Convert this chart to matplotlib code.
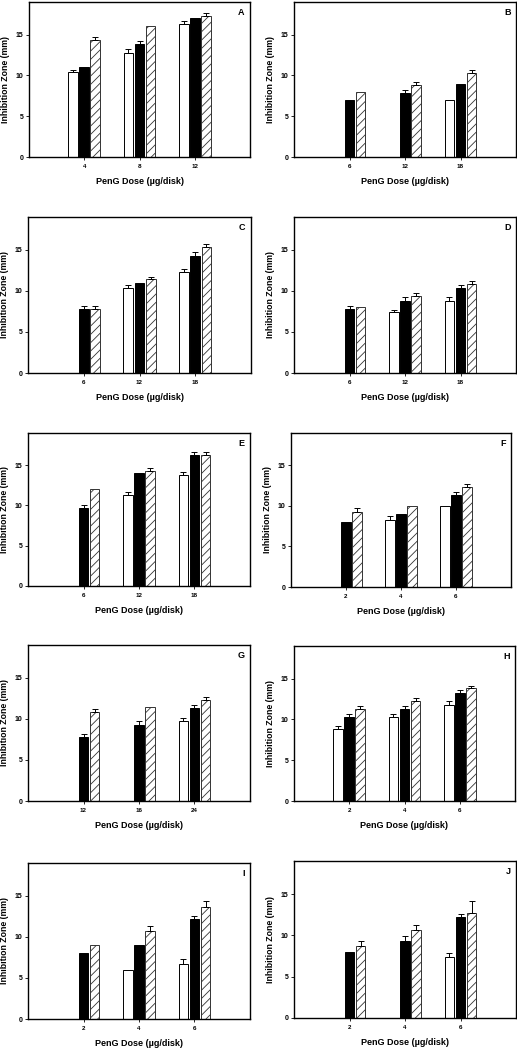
import numpy as np
import matplotlib
matplotlib.use('Agg')
import matplotlib.pyplot as plt

plt.rcParams['font.family'] = ['Liberation Sans', 'DejaVu Sans']
plt.rcParams['font.weight'] = 'bold'
plt.rcParams['hatch.linewidth'] = 0.6

nan = np.nan

# each panel: doses, then (white, black, hatched) means and upward errors
A_doses = ['4', '8', '12']
A_mean = [[10.4, 12.8, 16.3], [11.0, 13.8, 17.0], [14.3, 16.0, 17.3]]
A_err = [[0.3, 0.4, 0.35], [0.0, 0.4, 0.0], [0.4, 0.0, 0.3]]

B_doses = ['6', '12', '18']
B_mean = [[nan, nan, 7.0], [7.0, 7.8, 9.0], [8.0, 8.8, 10.3]]
B_err = [[nan, nan, 0.0], [0.0, 0.4, 0.0], [0.0, 0.4, 0.4]]

C_doses = ['6', '12', '18']
C_mean = [[nan, 10.3, 12.3], [7.8, 11.0, 14.3], [7.8, 11.4, 15.3]]
C_err = [[nan, 0.4, 0.4], [0.35, 0.0, 0.4], [0.35, 0.3, 0.4]]

D_doses = ['6', '12', '18']
D_mean = [[nan, 7.4, 8.8], [7.8, 8.8, 10.3], [8.0, 9.4, 10.8]]
D_err = [[nan, 0.3, 0.4], [0.4, 0.4, 0.4], [0.0, 0.3, 0.4]]

E_doses = ['6', '12', '18']
E_mean = [[nan, 11.3, 13.8], [9.7, 14.0, 16.3], [12.0, 14.3, 16.3]]
E_err = [[nan, 0.4, 0.4], [0.4, 0.0, 0.4], [0.0, 0.4, 0.4]]

F_doses = ['2', '4', '6']
F_mean = [[nan, 8.3, 10.0], [8.0, 9.0, 11.3], [9.3, 10.0, 12.3]]
F_err = [[nan, 0.4, 0.0], [0.0, 0.0, 0.4], [0.4, 0.0, 0.4]]

G_doses = ['12', '16', '24']
G_mean = [[nan, nan, 9.7], [7.8, 9.3, 11.3], [10.8, 11.5, 12.3]]
G_err = [[nan, nan, 0.4], [0.35, 0.4, 0.4], [0.4, 0.0, 0.4]]

H_doses = ['2', '4', '6']
H_mean = [[8.8, 10.3, 11.8], [10.3, 11.3, 13.3], [11.3, 12.3, 13.8]]
H_err = [[0.4, 0.35, 0.4], [0.35, 0.4, 0.35], [0.4, 0.35, 0.3]]

I_doses = ['2', '4', '6']
I_mean = [[nan, 6.0, 6.7], [8.0, 9.0, 12.2], [9.0, 10.7, 13.7]]
I_err = [[nan, 0.0, 0.6], [0.0, 0.0, 0.3], [0.0, 0.6, 0.7]]

J_doses = ['2', '4', '6']
J_mean = [[nan, nan, 7.4], [8.0, 9.3, 12.2], [8.7, 10.7, 12.7]]
J_err = [[nan, nan, 0.5], [0.0, 0.6, 0.35], [0.6, 0.5, 1.5]]

panels = [
    ('A', A_doses, A_mean, A_err, (29, 2, 250, 157)),
    ('B', B_doses, B_mean, B_err, (294, 2, 516, 157)),
    ('C', C_doses, C_mean, C_err, (28, 217, 251, 373)),
    ('D', D_doses, D_mean, D_err, (294, 217, 516, 373)),
    ('E', E_doses, E_mean, E_err, (28, 433, 250, 586)),
    ('F', F_doses, F_mean, F_err, (291, 433, 511, 587)),
    ('G', G_doses, G_mean, G_err, (28, 645, 250, 801)),
    ('H', H_doses, H_mean, H_err, (294, 646, 515, 801)),
    ('I', I_doses, I_mean, I_err, (28, 863, 250, 1019)),
    ('J', J_doses, J_mean, J_err, (294, 861, 516, 1018)),
]

W, H = 517, 1050
fig = plt.figure(figsize=(W / 100, H / 100), dpi=100)

offsets = [-0.2, 0.0, 0.2]
styles = [dict(color='white', edgecolor='black'),
          dict(color='black', edgecolor='black'),
          dict(color='white', edgecolor='#333333', hatch='////')]

for letter, doses, means, errs, (l, t, r, b) in panels:
    ax = fig.add_axes([l / W, 1 - b / H, (r - l) / W, (b - t) / H])
    x = np.arange(1, len(doses) + 1)
    for k in range(3):
        m = np.array(means[k], dtype=float)
        e = np.array(errs[k], dtype=float)
        ax.bar(x + offsets[k], m, width=0.175, linewidth=0.7, zorder=2, **styles[k])
        show = ~np.isnan(m) & (np.nan_to_num(e) > 0)
        ax.errorbar((x + offsets[k])[show], m[show],
                    yerr=[np.zeros(show.sum()), e[show]],
                    fmt='none', ecolor='black', elinewidth=0.7,
                    capsize=2.5, capthick=0.7, zorder=3)
    ax.set_xlim(0, 4)
    ax.set_ylim(0, 19)
    ax.set_xticks(x)
    ax.set_xticklabels(doses, fontsize=4.5, fontweight='bold')
    ax.set_yticks([0, 5, 10, 15])
    ax.tick_params(axis='y', labelsize=5, length=2, width=0.6, pad=2)
    ax.tick_params(axis='x', length=2, width=0.6, pad=3)
    for s in ax.spines.values():
        s.set_linewidth(1.0)
    ax.set_ylabel('Inhibition Zone (mm)', fontsize=6.3, fontweight='bold', labelpad=4)
    ax.set_xlabel('PenG Dose (\u00b5g/disk)', fontsize=6.5, fontweight='bold', labelpad=6)
    ax.text(0.975, 0.93, letter, transform=ax.transAxes, ha='right', va='center',
            fontsize=6.5, fontweight='bold')

fig.savefig('out.png', dpi=100)
